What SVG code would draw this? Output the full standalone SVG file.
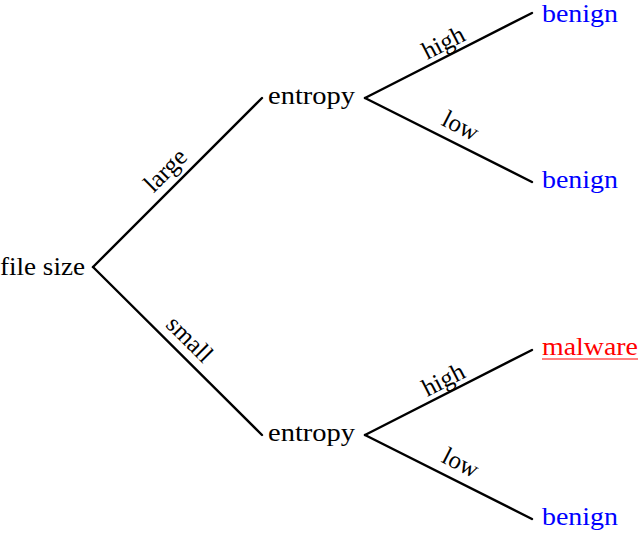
<svg xmlns="http://www.w3.org/2000/svg" width="640" height="559" viewBox="0 0 640 559">
<style>
text{font-family:"Liberation Serif","DejaVu Serif",serif;font-size:26px;fill:#000}
.leaf{fill:#0000ff}
.mal{fill:#ff0000}
.lbl{font-size:25px}
line{stroke:#000;stroke-width:2.4;stroke-linecap:round}
</style>
<rect width="640" height="559" fill="#fff"/>
<g id="connectors">
<line x1="93" y1="267" x2="262" y2="98"/>
<line x1="93" y1="267" x2="262" y2="435"/>
<line x1="365" y1="98" x2="532" y2="13"/>
<line x1="365" y1="98" x2="532" y2="182"/>
<line x1="365" y1="435" x2="532" y2="350"/>
<line x1="365" y1="435" x2="532" y2="519"/>
<text class="lbl" transform="translate(171,176) rotate(-45)" text-anchor="middle">large</text>
<text class="lbl" transform="translate(184,345) rotate(45)" text-anchor="middle">small</text>
<text class="lbl" transform="translate(447,50) rotate(-27)" text-anchor="middle">high</text>
<text class="lbl" transform="translate(457,133) rotate(27)" text-anchor="middle">low</text>
<text class="lbl" transform="translate(447,387) rotate(-27)" text-anchor="middle">high</text>
<text class="lbl" transform="translate(457,470) rotate(27)" text-anchor="middle">low</text>
</g>
<g id="root"><text x="0" y="275" textLength="85" lengthAdjust="spacingAndGlyphs">file size</text></g>
<g id="entropy1"><text x="268" y="104" textLength="87" lengthAdjust="spacingAndGlyphs">entropy</text></g>
<g id="entropy2"><text x="268" y="441" textLength="87" lengthAdjust="spacingAndGlyphs">entropy</text></g>
<g id="leaf1"><text class="leaf" x="542" y="22" textLength="76" lengthAdjust="spacingAndGlyphs">benign</text></g>
<g id="leaf2"><text class="leaf" x="542" y="188" textLength="76" lengthAdjust="spacingAndGlyphs">benign</text></g>
<g id="leaf3"><text class="mal" x="542" y="355" textLength="96" lengthAdjust="spacingAndGlyphs">malware</text><line x1="542" y1="359" x2="638" y2="359" style="stroke:#ff0000;stroke-width:1.2;stroke-linecap:butt"/></g>
<g id="leaf4"><text class="leaf" x="542" y="525" textLength="76" lengthAdjust="spacingAndGlyphs">benign</text></g>
</svg>
